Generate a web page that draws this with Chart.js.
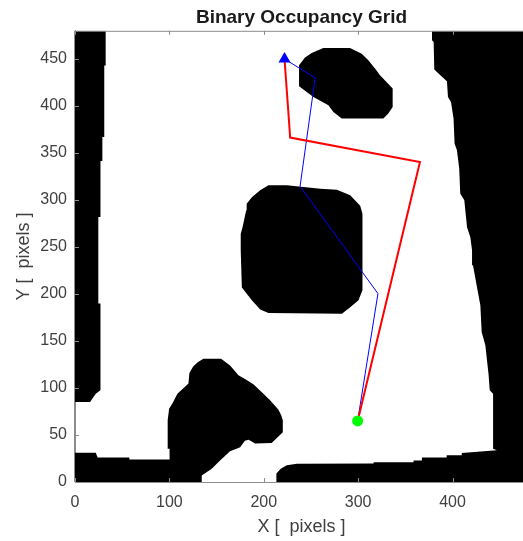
<!DOCTYPE html>
<html>
<head>
<meta charset="utf-8">
<title>Binary Occupancy Grid</title>
<script src="https://cdn.jsdelivr.net/npm/chart.js@4/dist/chart.umd.min.js"></script>
<style>
  html, body { margin: 0; padding: 0; background: #fff; overflow: hidden; }
  canvas { display: block; }
</style>
</head>
<body>
<!-- the map runs to x = 480, a little past the right edge of the window -->
<canvas id="grid" width="528" height="541"></canvas>
<script>
// Obstacle outlines, as [x, y] in map pixels
const leftWall = [[0,480],[32.5,480],[32.5,443],[31,443],[31,367],[29,367],[29,341.5],[27,341.5],[27,282],[24.7,282],[24.7,190],[27,190],[27,97.5],[22,94],[16,85],[0,85]];
const bottomWall = [[0,31.2],[22,31.2],[24,26],[57.6,26],[57.6,24],[100.2,24],[100.2,35.5],[98.2,35.5],[98.2,65.6],[99.7,78],[103.2,83.4],[108.5,94],[114,99],[120.2,104.7],[121.2,116],[125.2,123],[130,127.5],[136,131],[154.8,131],[164.3,124],[173.2,113.5],[181,109],[189,104],[198,95.5],[206.7,87],[215.4,77],[218.5,71],[220.2,65.6],[220.2,53],[208.4,41.5],[190.9,41],[183.9,45],[180,44],[175,37],[164.3,32.7],[153.7,23],[144.9,14],[134.3,7],[134.3,0],[0,0]];
const rightWall = [[213,0],[213.4,9],[218,14],[224.4,17.8],[235,19.3],[316.4,19.6],[316.4,21],[358.7,21],[358.7,23],[367.6,23],[367.6,26],[393.8,26],[393.8,28.4],[409.8,28.4],[409.8,30.9],[447,33.7],[443,35.5],[443,94],[439.4,97.5],[438.3,113.5],[434.8,145.4],[430.9,159.6],[429.5,188],[425.9,207.4],[421.7,230.5],[420.7,246.5],[418.9,260.4],[415.4,271],[412.5,299.7],[408.2,306.8],[407.1,333.4],[404.7,352.9],[402.2,360],[401.1,386.6],[398.4,404.3],[395.2,409.6],[394.1,426.3],[387.1,432.7],[380.7,438.7],[380,468],[378.3,470],[378.3,480],[480,480],[480,0]];
const centerBlock = [[196.2,310.3],[205,315.6],[224.4,315.6],[260,312],[277.5,311],[291.6,305],[302.2,294],[304.6,285.5],[304.6,204],[300.4,193.3],[291.6,186],[282.8,179],[205,179.8],[196.2,183.4],[187.4,193.3],[176.8,206.8],[175.6,246.5],[175.6,264],[177.4,270.6],[181.4,289],[181.9,296],[187.4,303]];
const topBlock = [[243.7,451.5],[250.8,456.4],[263.1,461.7],[291.4,461.7],[303.8,455.7],[310.8,448.6],[317.9,439.8],[323.2,432.7],[336.6,418.5],[336.6,399],[332,392],[326.7,386.6],[282.6,386.6],[273.8,393.6],[268.5,400.7],[252.6,409.6],[237.4,421],[237.4,443.3]];

// Paths from start to goal
const startPoint = [299.5, 65];
const goalPoint = [222, 450];
const redPathX = [299.5, 365.5, 228, 222];
const redPathY = [65, 340.5, 366.4, 450];
const bluePathX = [299.5, 321, 238.5, 254.5, 222];
const bluePathY = [65, 200.4, 314.6, 430, 450];

const xTicks = [0, 100, 200, 300, 400];
const yTicks = [0, 50, 100, 150, 200, 250, 300, 350, 400, 450];

const FONT = '"Liberation Sans", Arial, sans-serif';
const AXIS_GREY = '#8c8c8c';
const TEXT_GREY = '#404040';

const toPoints = (pairs) => pairs.map(p => ({ x: p[0], y: p[1] }));
const zipPoints = (xs, ys) => xs.map((x, i) => ({ x, y: ys[i] }));

const obstacle = (pairs) => ({
  data: toPoints(pairs),
  showLine: true,
  fill: 'shape',
  backgroundColor: '#000',
  borderColor: '#000',
  borderWidth: 0,
  pointRadius: 0,
  order: 5,
});

// inward ticks on all box sides, plus the top edge of the box
const boxTicks = {
  id: 'boxTicks',
  afterDatasetsDraw(chart) {
    const { ctx, chartArea: a, scales } = chart;
    const len = 4;
    ctx.save();
    ctx.strokeStyle = AXIS_GREY;
    ctx.lineWidth = 1;
    ctx.beginPath();
    ctx.moveTo(a.left, a.top + 0.5);
    ctx.lineTo(a.right, a.top + 0.5);
    ctx.moveTo(a.left - 0.5, a.top);
    ctx.lineTo(a.left - 0.5, a.bottom);
    xTicks.forEach(v => {
      const px = Math.round(scales.x.getPixelForValue(v)) + 0.5;
      ctx.moveTo(px, a.top);
      ctx.lineTo(px, a.top + len);
      ctx.moveTo(px, a.bottom);
      ctx.lineTo(px, a.bottom - len);
    });
    yTicks.forEach(v => {
      const py = Math.round(scales.y.getPixelForValue(v)) + 0.5;
      ctx.moveTo(a.left, py);
      ctx.lineTo(a.left + len, py);
    });
    ctx.stroke();
    ctx.restore();
  }
};

new Chart(document.getElementById('grid'), {
  type: 'scatter',
  data: {
    datasets: [
      obstacle(leftWall),
      obstacle(bottomWall),
      obstacle(rightWall),
      obstacle(centerBlock),
      obstacle(topBlock),
      { data: zipPoints(bluePathX, bluePathY), showLine: true, borderColor: '#0000ff', borderWidth: 1, pointRadius: 0, order: 3 },
      { data: zipPoints(redPathX, redPathY), showLine: true, borderColor: '#ff0000', borderWidth: 2, pointRadius: 0, order: 2 },
      { data: [{ x: goalPoint[0], y: goalPoint[1] }], pointStyle: 'triangle', pointRadius: 7, backgroundColor: '#0000ff', borderColor: '#0000ff', borderWidth: 0, order: 1 },
      { data: [{ x: startPoint[0], y: startPoint[1] }], pointStyle: 'circle', pointRadius: 5.5, backgroundColor: '#00ff00', borderColor: '#00ff00', borderWidth: 0, order: 1 },
    ]
  },
  options: {
    responsive: false,
    animation: false,
    layout: { padding: 0, autoPadding: false },
    plugins: {
      legend: { display: false },
      tooltip: { enabled: false },
      title: {
        display: true,
        text: 'Binary Occupancy Grid',
        fullSize: false,
        color: '#1a1a1a',
        font: { family: FONT, size: 19, weight: 'bold', lineHeight: 1.2 },
        padding: { top: 6, bottom: 2 },
      }
    },
    scales: {
      x: {
        type: 'linear',
        min: 0,
        max: 480,
        afterBuildTicks: (s) => { s.ticks = xTicks.map(value => ({ value })); },
        afterFit: (s) => { s.height = 59; },
        grid: { display: false, drawTicks: false },
        border: { color: AXIS_GREY },
        ticks: { color: TEXT_GREY, font: { family: FONT, size: 16 }, padding: 11, maxRotation: 0 },
        title: { display: true, text: 'X [  pixels ]', color: TEXT_GREY, font: { family: FONT, size: 18 }, padding: { top: 2, bottom: 3 } },
      },
      y: {
        type: 'linear',
        min: 0,
        max: 480,
        afterBuildTicks: (s) => { s.ticks = yTicks.map(value => ({ value })); },
        afterFit: (s) => { s.width = 75; },
        grid: { display: false, drawTicks: false },
        border: { color: AXIS_GREY },
        ticks: { color: TEXT_GREY, font: { family: FONT, size: 16 }, padding: 8 },
        title: { display: true, text: 'Y [  pixels ]', color: TEXT_GREY, font: { family: FONT, size: 18 }, padding: { top: 13, bottom: 0 } },
      }
    }
  },
  plugins: [boxTicks]
});
</script>
</body>
</html>
